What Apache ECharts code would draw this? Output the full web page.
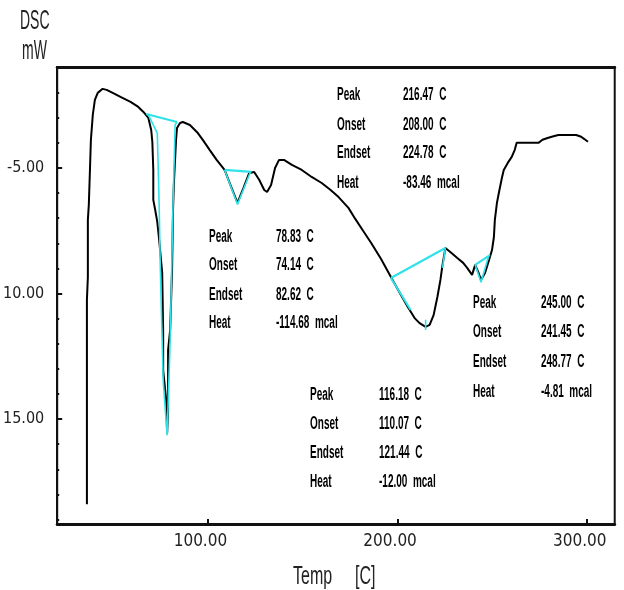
<!DOCTYPE html>
<html><head><meta charset="utf-8">
<script src="https://cdn.jsdelivr.net/npm/echarts@6/dist/echarts.min.js"></script>
<style>html,body{margin:0;padding:0;background:#fff}#c{width:624px;height:590px}</style>
</head><body><div id="c"></div>
<script>
// ---- data ----
const temps = [36.3,36.3,36.3,36.8,36.8,37.3,37.9,38.4,39.4,40.5,42.0,44.6,46.7,49.9,54.0,59.3,63.4,66.1,68.7,70.2,70.8,
  71.3,71.3,72.3,73.4,74.4,76.0,76.5,76.5,78.1,78.6,79.1,79.1,80.2,81.2,81.7,82.2,83.3,
  83.8,85.4,86.9,90.6,94.8,97.4,101.0,104.7,108.9,112.0,115.7,118.8,121.9,124.5,127.2,129.8,131.3,133.4,135.5,137.6,140.2,
  144.4,149.6,154.8,160.1,164.8,169.0,174.2,177.8,182.0,186.2,191.4,196.6,201.3,205.5,209.1,211.7,214.9,217.0,219.1,221.1,
  222.7,223.8,225.3,227.9,231.6,234.7,236.8,239.4,241.0,242.6,244.1,246.2,248.3,249.9,250.9,251.4,252.5,253.5,255.1,256.1,
  258.2,260.3,261.9,262.9,268.1,274.4,276.5,279.6,282.8,284.9,289.0,294.3,296.9,298.4,300.5];
const dsc = [-18.39,-15.84,-10.26,-9.34,-7.07,-6.47,-5.08,-3.88,-2.89,-2.29,-2.01,-1.85,-1.89,-2.01,-2.17,-2.37,-2.57,-2.77,-3.01,-3.49,-3.96,
  -5.08,-6.27,-6.67,-7.15,-7.87,-9.18,-11.45,-13.05,-14.24,-15.56,-14.64,-12.25,-11.45,-9.06,-6.67,-5.56,-3.88,
  -3.41,-3.21,-3.17,-3.29,-3.61,-3.88,-4.28,-4.68,-5.08,-5.68,-6.39,-5.80,-5.20,-5.16,-5.48,-5.88,-5.96,-5.68,-5.00,-4.68,-4.68,
  -4.88,-5.08,-5.36,-5.60,-5.88,-6.16,-6.59,-7.03,-7.51,-7.99,-8.63,-9.34,-9.98,-10.54,-10.98,-11.18,-11.33,-11.25,-10.86,-10.14,
  -9.46,-8.86,-8.19,-8.35,-8.59,-8.78,-8.98,-9.26,-8.86,-9.14,-9.46,-9.18,-8.67,-8.27,-7.75,-7.07,-6.39,-6.00,-5.40,-5.08,
  -4.80,-4.56,-4.28,-4.00,-4.00,-4.00,-3.88,-3.80,-3.73,-3.69,-3.69,-3.69,-3.76,-3.84,-3.96];

// analysis construction lines (cyan): each is [temps], [dsc]
const p1BaseT = [67.6, 83.8],            p1BaseY = [-2.85, -3.17];
const p1LeftT = [68.7, 73.4, 74.4, 74.9, 76.5, 78.6], p1LeftY = [-2.89, -3.61, -6.47, -8.67, -13.45, -15.64];
const p1RightT = [83.8, 82.8, 81.7, 80.2, 78.6],      p1RightY = [-3.17, -3.29, -6.47, -11.85, -15.64];
const p2BaseT = [108.9, 123.0],          p2BaseY = [-5.08, -5.16];
const p2VT = [108.9, 115.7, 122.5],      p2VY = [-5.08, -6.45, -5.16];
const p3BaseT = [196.6, 225.3],          p3BaseY = [-9.38, -8.19];
const p3LeftT = [196.6, 207.0],          p3LeftY = [-9.38, -10.66];
const p3RightT = [225.3, 223.8],         p3RightY = [-8.19, -8.98];
const p3TickT = [214.9, 214.9],          p3TickY = [-11.05, -11.45];
const p4BaseT = [241.0, 248.8],          p4BaseY = [-8.86, -8.47];
const p4VT = [241.0, 244.1, 248.0],      p4VY = [-8.86, -9.55, -8.55];

const xTickValues = [100, 200, 300];
const xTickLabels = ['100.00', '200.00', '300.00'];
const yTickValues = [-5, -10, -15];
const yTickLabels = ['-5.00', '10.00', '15.00'];
const yMinorTicks = [-2,-3,-4,-5,-6,-7,-8,-9,-10,-11,-12,-13,-14,-15,-16,-17,-18,-19];

const annotNames = ['Peak', 'Onset', 'Endset', 'Heat'];
const annotA = ['216.47  C', '208.00  C', '224.78  C', '-83.46  mcal'];
const annotB = ['78.83  C', '74.14  C', '82.62  C', '-114.68  mcal'];
const annotC = ['245.00  C', '241.45  C', '248.77  C', '-4.81  mcal'];
const annotD = ['116.18  C', '110.07  C', '121.44  C', '-12.00  mcal'];

// ---- build ----
const zip = (a, b) => a.map((v, i) => [v, b[i]]);
const cyan = '#2fe2ea';
function cyanSeries(name, t, y, w) {
  return { name, type: 'line', data: zip(t, y), showSymbol: false, silent: true, z: 4,
    lineStyle: { color: cyan, width: w || 1.6 }, animation: false };
}
const narrow = '"Liberation Sans Narrow","Arial Narrow","DejaVu Sans Condensed",sans-serif';
const txtFont = '"Liberation Sans",Arial,sans-serif';

const graphics = [];
function addText(text, x, y, size, weight, sy, color) {
  graphics.push({ type: 'text', x: x, y: y, scaleY: sy, silent: true,
    style: { text: text, x: 0, y: 0, fill: color || '#111', fontSize: size, fontWeight: weight, fontFamily: txtFont,
      textAlign: 'left', textVerticalAlign: 'middle', align: 'left', verticalAlign: 'middle' } });
}
function addBlock(vals, lx, vx, ys) {
  annotNames.forEach((n, i) => { addText(n, lx, ys[i], 10, 'bold', 1.85, '#000'); addText(vals[i], vx, ys[i], 10, 'bold', 1.85, '#000'); });
}
addBlock(annotA, 337, 403, [95, 125, 153, 183]);
addBlock(annotB, 209, 276, [237, 265, 295, 323]);
addBlock(annotC, 473, 541, [303, 332, 362, 392]);
addBlock(annotD, 310, 379, [395, 424, 453, 482]);
addText('DSC', 20, 21, 14, 'normal', 2.0, '#222');
addText('mW', 22, 51, 14, 'normal', 2.0, '#222');
addText('Temp', 293, 577, 16, 'normal', 1.6, '#222');
addText('[C]', 355, 577, 16, 'normal', 1.6, '#222');

const chart = echarts.init(document.getElementById('c'), null, { renderer: 'canvas' });
chart.setOption({
  animation: false,
  backgroundColor: '#fff',
  grid: { left: 56, top: 67, right: 5, bottom: 66, show: true, borderColor: '#111', borderWidth: 2, containLabel: false },
  xAxis: [
    { type: 'value', min: 20.63, max: 314.6, position: 'bottom',
      axisLine: { show: true, onZero: false, lineStyle: { color: '#111', width: 3 } },
      axisTick: { show: true, inside: true, length: 5, customValues: xTickValues, lineStyle: { color: '#111', width: 2 } },
      axisLabel: { customValues: xTickValues, margin: 9, color: '#222', fontSize: 17, fontFamily: narrow,
        formatter: v => (xTickLabels[xTickValues.indexOf(v)] || '') + '   ' },
      splitLine: { show: false } },
    { type: 'value', min: 20.63, max: 314.6, position: 'top',
      axisLine: { show: true, onZero: false, lineStyle: { color: '#111', width: 3 } },
      axisTick: { show: false }, axisLabel: { show: false }, splitLine: { show: false } }
  ],
  yAxis: [
    { type: 'value', min: -19.18, max: -0.98, position: 'left',
      axisLine: { show: true, onZero: false, lineStyle: { color: '#111', width: 2 } },
      axisTick: { show: true, inside: true, length: 5, customValues: yTickValues, lineStyle: { color: '#111', width: 2 } },
      axisLabel: { customValues: yTickValues, margin: 13, color: '#222', fontSize: 16, fontFamily: narrow,
        formatter: v => yTickLabels[yTickValues.indexOf(v)] || '' },
      splitLine: { show: false } },
    { type: 'value', min: -19.18, max: -0.98, position: 'left',
      axisLine: { show: false },
      axisTick: { show: true, inside: true, length: 2, customValues: yMinorTicks, lineStyle: { color: '#111', width: 2 } },
      axisLabel: { show: false }, splitLine: { show: false } }
  ],
  series: [
    { name: 'DSC', type: 'line', data: zip(temps, dsc), showSymbol: false, z: 3,
      lineStyle: { color: '#000', width: 2 }, animation: false },
    cyanSeries('p1 base', p1BaseT, p1BaseY, 2.2),
    cyanSeries('p1 left', p1LeftT, p1LeftY),
    cyanSeries('p1 right', p1RightT, p1RightY),
    cyanSeries('p2 base', p2BaseT, p2BaseY, 2.2),
    cyanSeries('p2 v', p2VT, p2VY),
    cyanSeries('p3 base', p3BaseT, p3BaseY, 2.2),
    cyanSeries('p3 left', p3LeftT, p3LeftY, 2),
    cyanSeries('p3 right', p3RightT, p3RightY),
    cyanSeries('p3 tick', p3TickT, p3TickY),
    cyanSeries('p4 base', p4BaseT, p4BaseY, 2),
    cyanSeries('p4 v', p4VT, p4VY)
  ],
  graphic: graphics
});
</script></body></html>
